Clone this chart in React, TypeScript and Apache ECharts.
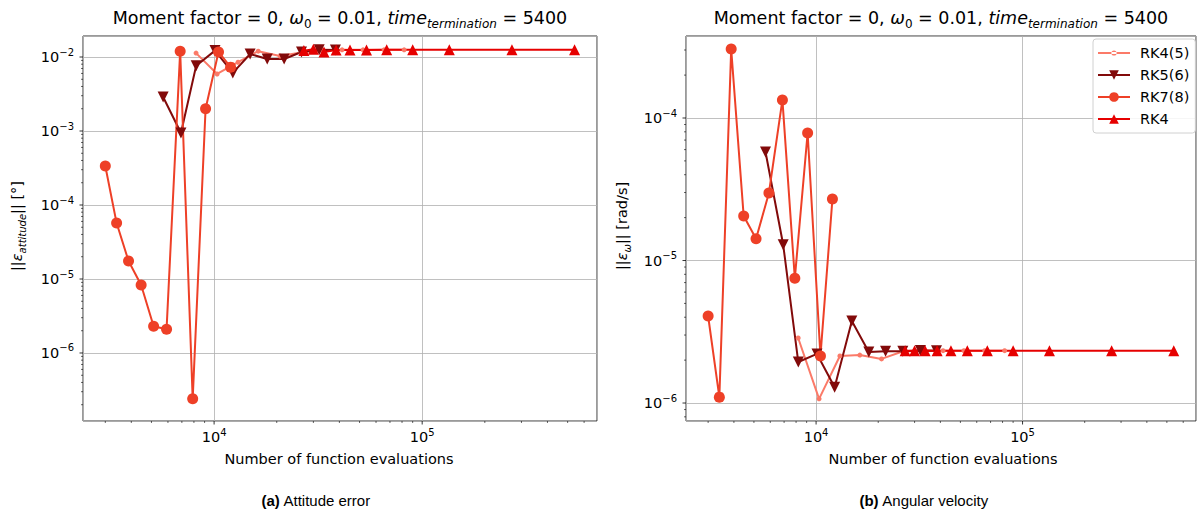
import React, { useEffect, useRef } from 'react';
import * as echarts from 'echarts';

// ---- data ----
const evalsRK45 = [8190, 10340, 13040, 16290, 20750, 26200, 33000, 41200, 52000, 65600, 81900];
const evalsRK56 = [5690, 6930, 8200, 10100, 12300, 14900, 18000, 21700, 26300, 32000, 38300];
const evalsRK78 = [3000, 3400, 3880, 4460, 5120, 5910, 6870, 7890, 9100, 10500, 12000];
const evalsRK4 = [27000, 30000, 33750, 38571, 45000, 54000, 67500, 90000, 135000, 270000, 540000];

const attRK45 = [1.13e-2, 5.9e-3, 8.5e-3, 1.2e-2, 1.03e-2, 1.15e-2, 1.24e-2, 1.25e-2, 1.25e-2, 1.25e-2, 1.25e-2];
const attRK56 = [2.88e-3, 9.4e-4, 7.6e-3, 1.22e-2, 6.1e-3, 1.1e-2, 9.4e-3, 9.4e-3, 1.17e-2, 1.25e-2, 1.24e-2];
const attRK78 = [3.37e-4, 5.7e-5, 1.75e-5, 8.3e-6, 2.3e-6, 2.1e-6, 1.2e-2, 2.4e-7, 2.0e-3, 1.17e-2, 7.3e-3];
const attRK4 = [1.22e-2, 1.27e-2, 1.17e-2, 1.24e-2, 1.24e-2, 1.24e-2, 1.25e-2, 1.25e-2, 1.25e-2, 1.25e-2, 1.25e-2];

const omgRK45 = [2.86e-6, 1.07e-6, 2.14e-6, 2.17e-6, 2.04e-6, 2.3e-6, 2.33e-6, 2.33e-6, 2.33e-6, 2.33e-6, 2.33e-6];
const omgRK56 = [5.77e-5, 1.29e-5, 1.94e-6, 2.21e-6, 1.29e-6, 3.76e-6, 2.28e-6, 2.31e-6, 2.31e-6, 2.34e-6, 2.33e-6];
const omgRK78 = [4.08e-6, 1.1e-6, 3.05e-4, 2.05e-5, 1.42e-5, 2.98e-5, 1.34e-4, 7.5e-6, 7.85e-5, 2.14e-6, 2.7e-5];
const omgRK4 = [2.33e-6, 2.33e-6, 2.33e-6, 2.33e-6, 2.33e-6, 2.33e-6, 2.33e-6, 2.33e-6, 2.33e-6, 2.33e-6, 2.33e-6];

const seriesNames = ['RK4(5)', 'RK5(6)', 'RK7(8)', 'RK4'];
const xRange = [2344, 692000];
const yAttRange = [1.205e-7, 1.923e-2];
const yOmgRange = [7.48e-7, 3.762e-4];

const titleText = '{n|Moment factor = 0, }{i|ω}{s|0}{n| = 0.01, }{i|time}{si|termination}{n| = 5400}';
const xName = 'Number of function evaluations';
const yAttName = '{n|||}{i|ε}{si|attitude}{n||| [°]}';
const yOmgName = '{n|||}{i|ε}{si|ω}{n||| [rad/s]}';
const captionA = '{b|(a)}{n| Attitude error}';
const captionB = '{b|(b)}{n| Angular velocity}';

const FONT = 'DejaVu Sans';
const CAP_FONT = 'Liberation Sans';

const colors = ['#fb7a68', '#820a0a', '#ee4027', '#e60000'];
const smallDotIcon = 'path://M0,0h0.01v0.01h-0.01z M31.99,11.99h0.01v0.01h-0.01z M0,5.1H32V6.9H0Z M13.4,6a2.6,2.6 0 1,0 5.2,0a2.6,2.6 0 1,0 -5.2,0Z';

export default function App() {
  const ref = useRef<HTMLDivElement>(null);
  useEffect(() => {
    const chart = echarts.init(ref.current!, null, { renderer: 'svg' });

    const labelFmt = (v: number) => {
      const e = Math.log10(v);
      if (Math.abs(e - Math.round(e)) > 1e-6) return '';
      return '{b|10}{s|' + String(Math.round(e)).replace('-', '\u2212') + '}';
    };
    const labelRich = {
      b: { fontSize: 14.5, fontFamily: FONT, color: '#000', lineHeight: 20 },
      s: { fontSize: 10, fontFamily: FONT, color: '#000', lineHeight: 10, verticalAlign: 'top' },
    };
    const mkX = (gi: number) => ({
      type: 'log', logBase: 10, gridIndex: gi, min: xRange[0], max: xRange[1],
      axisLine: { show: false }, axisTick: { show: false },
      axisLabel: { formatter: labelFmt, rich: labelRich, margin: 6 },
      splitLine: { show: true, lineStyle: { color: '#b0b0b0', width: 0.8 } },
      minorTick: { show: false }, minorSplitLine: { show: false },
    });
    const mkY = (gi: number, r: number[]) => ({
      type: 'log', logBase: 10, gridIndex: gi, min: r[0], max: r[1],
      axisLine: { show: false }, axisTick: { show: false },
      axisLabel: { formatter: labelFmt, rich: labelRich, margin: 9 },
      splitLine: { show: true, lineStyle: { color: '#b0b0b0', width: 0.8 } },
    });

    const symbols = ['circle', 'triangle', 'circle', 'triangle'];
    const rot = [0, 180, 0, 0];
    const sizes = [5, 11, 11, 11];
    const widths = [2, 2, 2, 2];
    const mkS = (k: number, gi: number, xs: number[], ys: number[]) => ({
      type: 'line', name: seriesNames[k], xAxisIndex: gi, yAxisIndex: gi,
      data: xs.map((x, i) => [x, ys[i]]),
      symbol: symbols[k], symbolRotate: rot[k], symbolSize: sizes[k], showSymbol: true,
      lineStyle: { color: colors[k], width: widths[k] },
      itemStyle: { color: colors[k] },
      emphasis: { disabled: true }, silent: true,
    });

    chart.setOption({
      animation: false,
      backgroundColor: '#fff',
      grid: [
        { left: 83, top: 36, width: 514, height: 385, show: true, borderColor: '#000', borderWidth: 0.8, outerBoundsMode: 'none' },
        { left: 686, top: 36, width: 510, height: 385, show: true, borderColor: '#000', borderWidth: 0.8, outerBoundsMode: 'none' },
      ],
      xAxis: [mkX(0), mkX(1)],
      yAxis: [mkY(0, yAttRange), mkY(1, yOmgRange)],
      legend: {
        data: [
          { name: seriesNames[0], icon: smallDotIcon },
          { name: seriesNames[1] },
          { name: seriesNames[2] },
          { name: seriesNames[3] },
        ],
        orient: 'vertical', left: 1093, top: 39,
        padding: [6, 6, 6, 4], itemWidth: 32, itemHeight: 12, itemGap: 6,
        backgroundColor: 'rgba(255,255,255,0.85)', borderColor: '#d0d0d0', borderWidth: 1, borderRadius: 3,
        textStyle: { fontFamily: FONT, fontSize: 14.5, color: '#000', lineHeight: 16, padding: [0, 0, 0, 5] },
        selectedMode: false,
      },
      series: [
        mkS(0, 0, evalsRK45, attRK45), mkS(1, 0, evalsRK56, attRK56), mkS(2, 0, evalsRK78, attRK78), mkS(3, 0, evalsRK4, attRK4),
        mkS(0, 1, evalsRK45, omgRK45), mkS(1, 1, evalsRK56, omgRK56), mkS(2, 1, evalsRK78, omgRK78), mkS(3, 1, evalsRK4, omgRK4),
      ],
    });

    // ticks (major + minor) drawn as graphic lines
    const els: any[] = [];
    const grids = [{ l: 83, t: 36, w: 514, h: 385, yr: yAttRange }, { l: 686, t: 36, w: 510, h: 385, yr: yOmgRange }];
    grids.forEach((g, gi) => {
      const bottom = g.t + g.h;
      for (let n = 2; n <= 6; n++) {
        for (let k = 1; k <= 9; k++) {
          const v = k * Math.pow(10, n);
          if (v <= xRange[0] || v >= xRange[1]) continue;
          const px = chart.convertToPixel({ xAxisIndex: gi } as any, v) as number;
          const len = k === 1 ? 3.5 : 2;
          els.push({ type: 'line', shape: { x1: px, y1: bottom, x2: px, y2: bottom + len }, style: { stroke: '#000', lineWidth: k === 1 ? 0.8 : 0.6 }, silent: true });
        }
      }
      for (let n = -8; n <= -1; n++) {
        for (let k = 1; k <= 9; k++) {
          const v = k * Math.pow(10, n);
          if (v <= g.yr[0] || v >= g.yr[1]) continue;
          const py = chart.convertToPixel({ yAxisIndex: gi } as any, v) as number;
          const len = k === 1 ? 3.5 : 2;
          els.push({ type: 'line', shape: { x1: g.l, y1: py, x2: g.l - len, y2: py }, style: { stroke: '#000', lineWidth: k === 1 ? 0.8 : 0.6 }, silent: true });
        }
      }
    });

    const titleRich = {
      n: { fontSize: 17.5, fontFamily: FONT, fill: '#000', lineHeight: 24 },
      i: { fontSize: 17.5, fontFamily: FONT, fontStyle: 'italic', fill: '#000', lineHeight: 24 },
      s: { fontSize: 12, fontFamily: FONT, fill: '#000', lineHeight: 12, verticalAlign: 'bottom' },
      si: { fontSize: 12, fontFamily: FONT, fontStyle: 'italic', fill: '#000', lineHeight: 12, verticalAlign: 'bottom' },
    };
    const yRich = {
      n: { fontSize: 14.5, fontFamily: FONT, fill: '#000', lineHeight: 20 },
      i: { fontSize: 14.5, fontFamily: FONT, fontStyle: 'italic', fill: '#000', lineHeight: 20 },
      si: { fontSize: 10, fontFamily: FONT, fontStyle: 'italic', fill: '#000', lineHeight: 10, verticalAlign: 'bottom' },
    };
    const capRich = {
      b: { fontSize: 15, fontFamily: CAP_FONT, fontWeight: 'bold', fill: '#000' },
      n: { fontSize: 15, fontFamily: CAP_FONT, fill: '#000' },
    };
    const txt = (x: number, y: number, text: string, rich: any, rotation = 0, extra: any = {}) => ({
      type: 'text', x, y, rotation, silent: true,
      style: { text, rich, fill: '#000', fontFamily: FONT, fontSize: 16, align: 'center', verticalAlign: 'middle', ...extra },
    });
    els.push(txt(340, 18, titleText, titleRich));
    els.push(txt(941, 18, titleText, titleRich));
    els.push(txt(339, 459, xName, null, 0, { fontSize: 14.5 }));
    els.push(txt(943, 459, xName, null, 0, { fontSize: 14.5 }));
    els.push(txt(17, 226, yAttName, yRich, Math.PI / 2));
    els.push(txt(622, 226, yOmgName, yRich, Math.PI / 2));
    els.push(txt(316, 500, captionA, capRich));
    els.push(txt(924, 500, captionB, capRich));

    chart.setOption({ graphic: { elements: els } });

    return () => chart.dispose();
  }, []);
  return <div ref={ref} style={{ position: 'absolute', left: 0, top: 0, width: 1200, height: 515, background: '#fff' }} />;
}
